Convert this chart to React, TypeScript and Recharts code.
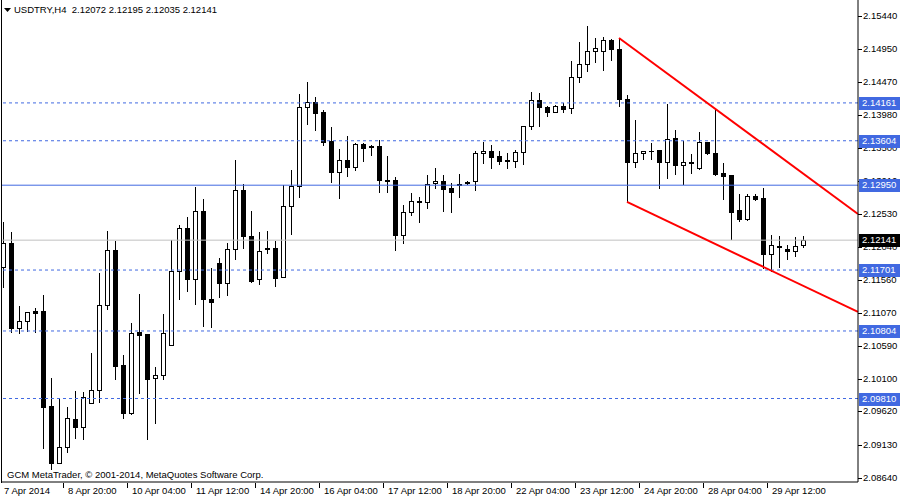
import React from "react";
import { ComposedChart, Bar, XAxis, YAxis, ReferenceLine } from "recharts";

// USDTRY H4, 7 Apr 12:00 .. 30 Apr 04:00 (bar index = category)
const opens = [
  2.11746, 2.12099, 2.10848, 2.10951, 2.11098, 2.11098, 2.097, 2.08861, 2.09097, 2.09509,
  2.09391, 2.09744, 2.09936, 2.11187, 2.11996, 2.10304, 2.09597, 2.10789, 2.1076, 2.10112,
  2.10156, 2.10598, 2.11687, 2.1232, 2.11569, 2.1257, 2.11275, 2.11805, 2.11511, 2.12011,
  2.12879, 2.12202, 2.11569, 2.12026, 2.12026, 2.11599, 2.12644, 2.12938, 2.14101, 2.14175,
  2.14028, 2.13601, 2.13144, 2.13321, 2.13218, 2.13557, 2.13527, 2.13527, 2.13027, 2.13027,
  2.12217, 2.12556, 2.12718, 2.12703, 2.12982, 2.13012, 2.12909, 2.12968, 2.12997, 2.13012,
  2.13424, 2.13453, 2.1338, 2.13321, 2.13306, 2.13439, 2.13821, 2.14204, 2.14101, 2.14028,
  2.14116, 2.14086, 2.14543, 2.14734, 2.14925, 2.14925, 2.15087, 2.14955, 2.14219, 2.13292,
  2.13424, 2.13453, 2.13468, 2.13292, 2.13645, 2.13247, 2.13292, 2.13203, 2.13586, 2.13424,
  2.1313, 2.131, 2.12585, 2.12453, 2.12791, 2.12762, 2.11937, 2.12055, 2.12011, 2.11982,
  2.12072,
];
const highs = [
  2.12408, 2.12261, 2.11172, 2.11084, 2.11142, 2.11334, 2.10112, 2.09803, 2.09685, 2.09921,
  2.09906, 2.1048, 2.11658, 2.12276, 2.12129, 2.10451, 2.10922, 2.11349, 2.1076, 2.10274,
  2.11054, 2.12143, 2.12364, 2.12482, 2.12924, 2.12747, 2.11731, 2.11879, 2.12099, 2.13321,
  2.12968, 2.1257, 2.12261, 2.12276, 2.12129, 2.12953, 2.13174, 2.14292, 2.14469, 2.14248,
  2.14057, 2.13807, 2.13483, 2.13674, 2.13571, 2.13571, 2.13542, 2.13615, 2.1338, 2.13071,
  2.12659, 2.12835, 2.12776, 2.131, 2.13203, 2.131, 2.12982, 2.13115, 2.13012, 2.13453,
  2.13586, 2.13542, 2.13453, 2.13424, 2.13468, 2.13821, 2.14322, 2.14307, 2.14116, 2.1413,
  2.1416, 2.14778, 2.15058, 2.15293, 2.15117, 2.15131, 2.15102, 2.15117, 2.14278, 2.1391,
  2.13453, 2.13571, 2.13468, 2.14145, 2.13763, 2.13601, 2.13409, 2.13733, 2.13586, 2.14072,
  2.13277, 2.131, 2.12821, 2.12821, 2.12821, 2.12909, 2.12217, 2.12202, 2.1207, 2.12188,
  2.12195,
];
const lows = [
  2.11452, 2.10789, 2.10775, 2.10804, 2.10789, 2.09082, 2.08773, 2.08861, 2.09023, 2.09229,
  2.09214, 2.09744, 2.09759, 2.11128, 2.10097, 2.09524, 2.09582, 2.09892, 2.09214, 2.0945,
  2.10097, 2.10598, 2.11275, 2.11393, 2.11201, 2.10878, 2.10863, 2.11304, 2.11334, 2.11864,
  2.12026, 2.11525, 2.11496, 2.11952, 2.11466, 2.11599, 2.12232, 2.12776, 2.13851, 2.13763,
  2.13542, 2.12997, 2.12762, 2.13086, 2.13174, 2.13306, 2.13395, 2.1285, 2.1285, 2.11996,
  2.12099, 2.12511, 2.12408, 2.12614, 2.12909, 2.1257, 2.12556, 2.12776, 2.12968, 2.12879,
  2.13277, 2.13203, 2.13262, 2.13203, 2.13218, 2.13262, 2.13777, 2.13821, 2.13969, 2.14028,
  2.14028, 2.14013, 2.14469, 2.14631, 2.14763, 2.14646, 2.14793, 2.14116, 2.12703, 2.13218,
  2.13336, 2.13336, 2.12909, 2.13056, 2.13115, 2.12968, 2.1313, 2.13189, 2.13409, 2.131,
  2.12747, 2.12158, 2.12423, 2.12438, 2.12732, 2.11731, 2.11687, 2.11746, 2.11864, 2.11908,
  2.12035,
];
const closes = [
  2.12099, 2.10848, 2.10951, 2.11084, 2.11069, 2.09685, 2.08861, 2.09097, 2.09524, 2.09391,
  2.09833, 2.09936, 2.11187, 2.11996, 2.10289, 2.09597, 2.10775, 2.10745, 2.10097, 2.10156,
  2.10775, 2.11687, 2.1232, 2.11569, 2.1257, 2.11275, 2.11231, 2.11511, 2.12011, 2.12879,
  2.12202, 2.1154, 2.11982, 2.12011, 2.11584, 2.12644, 2.12938, 2.14101, 2.14175, 2.14013,
  2.13586, 2.13144, 2.13321, 2.13218, 2.13557, 2.13498, 2.13512, 2.13027, 2.13012, 2.12217,
  2.12556, 2.12718, 2.12703, 2.12968, 2.13012, 2.12894, 2.1285, 2.12953, 2.12982, 2.13424,
  2.13453, 2.13365, 2.13306, 2.13306, 2.13439, 2.13821, 2.14204, 2.14101, 2.14028, 2.14116,
  2.14072, 2.14543, 2.14734, 2.14925, 2.1497, 2.15087, 2.14955, 2.14219, 2.13292, 2.13424,
  2.13453, 2.13453, 2.13292, 2.1363, 2.13247, 2.13292, 2.13277, 2.13586, 2.13424, 2.13115,
  2.13086, 2.12556, 2.12453, 2.12791, 2.12747, 2.11937, 2.1207, 2.1204, 2.11982, 2.12055,
  2.12141,
];

const tickBars = [0, 8, 16, 24, 32, 40, 48, 56, 64, 72, 80, 88, 96];
const tickLabels = [
  "7 Apr 2014", "8 Apr 20:00", "10 Apr 04:00", "11 Apr 12:00", "14 Apr 20:00", "16 Apr 04:00",
  "17 Apr 12:00", "18 Apr 20:00", "22 Apr 04:00", "23 Apr 12:00", "24 Apr 20:00", "28 Apr 04:00",
  "29 Apr 12:00",
];
const priceTicks = [
  2.1544, 2.1495, 2.1447, 2.1398, 2.135, 2.1301, 2.1253, 2.1204, 2.1156, 2.1107, 2.1059, 2.101,
  2.0962, 2.0913, 2.0864,
];

const dashedLevels = [2.14161, 2.13604, 2.11701, 2.10804, 2.0981];
const solidLevel = 2.1295;
const bidPrice = 2.12141;

// trend lines: [bar, price]
const upperTrend = [[77, 2.15117], [106.875, 2.12526]];
const lowerTrend = [[78, 2.12703], [106.875, 2.11084]];

const chartData = opens.map((o, i) => ({
  bar: i,
  open: o,
  high: highs[i],
  low: lows[i],
  close: closes[i],
}));

const FONT = '"Liberation Sans", Arial, sans-serif';
const FS = 9.5;
const BLUE = "#4169e1";

function Candle(props: any) {
  const { x, y, width, height, payload } = props;
  if (!payload) return null;
  const top = Math.min(y, y + height);
  const bot = Math.max(y, y + height);
  const span = payload.high - payload.low;
  const py = (p: number) => (span > 0 ? top + ((payload.high - p) / span) * (bot - top) : top);
  const cx = Math.round(x + width / 2);
  const yh = Math.round(top);
  const yl = Math.round(bot);
  const yo = Math.round(py(payload.open));
  const yc = Math.round(py(payload.close));
  const bull = payload.close >= payload.open;
  let body;
  if (Math.abs(yo - yc) < 1) {
    body = <line x1={cx - 2} x2={cx + 3} y1={yo + 0.5} y2={yo + 0.5} stroke="#000" />;
  } else if (bull) {
    body = <rect x={cx - 1.5} y={yc + 0.5} width={4} height={yo - yc} fill="#fff" stroke="#000" />;
  } else {
    body = <rect x={cx - 2} y={yo} width={5} height={yc - yo + 1} fill="#000" />;
  }
  return (
    <g>
      <line x1={cx + 0.5} x2={cx + 0.5} y1={yh} y2={yl + 1} stroke="#000" />
      {body}
    </g>
  );
}

// price-axis tag drawn on top of the axis labels
function LevelTag({ viewBox, value, fill }: any) {
  if (!viewBox) return null;
  const yy = Math.round(viewBox.y);
  const x0 = viewBox.x + viewBox.width + 1;
  return (
    <g>
      <rect x={x0} y={yy - 6} width={42} height={13} fill={fill} />
      <text x={x0 + 3} y={yy} dy="0.36em" fill="#fff" fontSize={FS} fontFamily={FONT}>
        {value}
      </text>
    </g>
  );
}

// axis label rendered as a reference-line label so tags can sit above it
function PriceTick({ viewBox, value }: any) {
  if (!viewBox) return null;
  const yy = Math.round(viewBox.y);
  const x0 = viewBox.x + viewBox.width;
  return (
    <g>
      <line x1={x0} x2={x0 + 4} y1={yy + 0.5} y2={yy + 0.5} stroke="#000" />
      <text x={x0 + 5} y={yy} dy="0.36em" fontSize={FS} fontFamily={FONT} fill="#000">
        {value}
      </text>
    </g>
  );
}

function TimeTick({ x, payload }: any) {
  const i = tickBars.indexOf(payload.value);
  const px = Math.round(x);
  return (
    <g>
      <line x1={px - 3.5} x2={px - 3.5} y1={483} y2={488} stroke="#000" />
      <text x={px + 1} y={491} dy="0.36em" fontSize={FS} fontFamily={FONT} fill="#000">
        {tickLabels[i]}
      </text>
    </g>
  );
}

export default function App() {
  return (
    <div style={{ position: "absolute", left: 0, top: 0, width: 900, height: 500, background: "#fff" }}>
      <ComposedChart
        width={900}
        height={500}
        data={chartData}
        margin={{ top: 0, right: 2, left: 2, bottom: 0 }}
      >
        <XAxis
          dataKey="bar"
          type="number"
          domain={[-0.125, 106.875]}
          allowDataOverflow
          ticks={tickBars}
          tick={<TimeTick />}
          tickLine={false}
          axisLine={{ stroke: "#000" }}
          height={18}
          interval={0}
        />
        <YAxis
          type="number"
          orientation="right"
          domain={[2.08581, 2.15676]}
          allowDataOverflow
          ticks={priceTicks}
          tick={false}
          tickLine={false}
          axisLine={{ stroke: "#000" }}
          width={40}
        />
        {priceTicks.map((t) => (
          <ReferenceLine key={"t" + t} y={t} stroke="none" label={<PriceTick value={t.toFixed(5)} />} />
        ))}
        <ReferenceLine y={bidPrice} stroke="#c0c0c0" label={<LevelTag value={bidPrice.toFixed(5)} fill="#000" />} />
        {dashedLevels.map((lv) => (
          <ReferenceLine
            key={lv}
            y={lv}
            stroke={BLUE}
            strokeDasharray="3 3"
            label={<LevelTag value={lv.toFixed(5)} fill={BLUE} />}
          />
        ))}
        <ReferenceLine y={solidLevel} stroke={BLUE} label={<LevelTag value={solidLevel.toFixed(5)} fill={BLUE} />} />
        <Bar
          dataKey={(d: any) => [d.low, d.high]}
          barSize={5}
          shape={(p: any) => <Candle {...p} />}
          isAnimationActive={false}
        />
        <ReferenceLine
          segment={upperTrend.map(([b, p]) => ({ x: b, y: p }))}
          stroke="#ff0000"
          strokeWidth={2}
          ifOverflow="visible"
        />
        <ReferenceLine
          segment={lowerTrend.map(([b, p]) => ({ x: b, y: p }))}
          stroke="#ff0000"
          strokeWidth={2}
          ifOverflow="visible"
        />
      </ComposedChart>
      <svg width={900} height={500} style={{ position: "absolute", left: 0, top: 0, pointerEvents: "none" }}>
        <line x1={1.5} x2={1.5} y1={0} y2={483} stroke="#000" />
        <polygon points="4,8 11,8 7.5,12" fill="#000" />
        <text x={14} y={10} dy="0.36em" fontSize={FS} fontFamily={FONT} fill="#000" style={{ whiteSpace: "pre" }}>
          {"USDTRY,H4  2.12072 2.12195 2.12035 2.12141"}
        </text>
        <text x={7} y={475} dy="0.36em" fontSize={FS} fontFamily={FONT} fill="#000">
          GCM MetaTrader, © 2001-2014, MetaQuotes Software Corp.
        </text>
      </svg>
    </div>
  );
}
